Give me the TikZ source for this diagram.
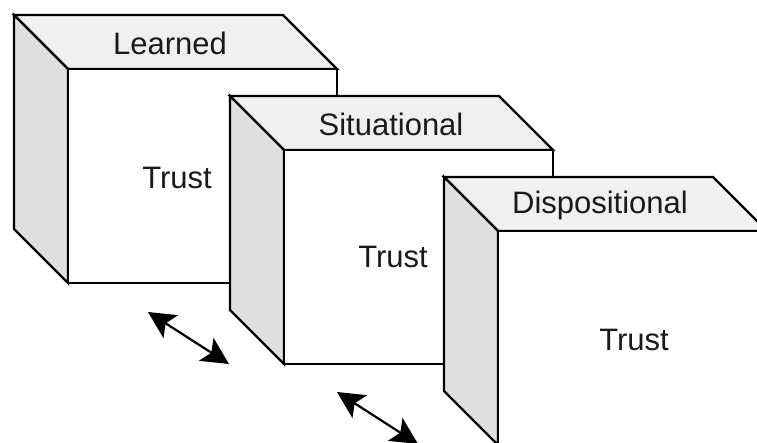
\documentclass[tikz,border=0pt]{standalone}
\usepackage{fontspec}
\setmainfont{Liberation Sans}
\usetikzlibrary{arrows.meta}
\definecolor{topgray}{HTML}{F0F0F0}
\definecolor{sidegray}{HTML}{E0E0E0}
\definecolor{txt}{HTML}{1A1A1A}
\tikzset{
  face/.style={draw=black, line width=2.4pt, line join=miter},
  topface/.style={face, fill=topgray},
  sideface/.style={face, fill=sidegray},
  frontface/.style={face, fill=white},
  lbl/.style={font=\fontsize{31}{34}\selectfont, text=txt, inner sep=0pt},
  dbl/.style={line width=2.2pt, {Stealth[length=27pt,width=27pt,inset=6pt]}-{Stealth[length=27pt,width=27pt,inset=6pt]}}
}
\newcommand{\drawcube}[1]{%
  \begin{scope}[shift={#1}]
    \draw[topface] (0,0) -- (269,0) -- (323,54) -- (54,54) -- cycle;
    \draw[sideface] (0,0) -- (54,54) -- (54,268) -- (0,214) -- cycle;
    \draw[frontface] (54,54) rectangle (323,268);
  \end{scope}}
\begin{document}
\begin{tikzpicture}[x=1pt,y=-1pt]
\useasboundingbox (0,0) rectangle (757,442);
\drawcube{(14,15)}
\node[lbl] (learned) at (170,43) {Learned};
\node[lbl] (trust1) at (177,178) {Trust};
\drawcube{(230,96)}
\node[lbl] (situational) at (391,124) {Situational};
\node[lbl] (trust2) at (393,257) {Trust};
\drawcube{(444,177)}
\node[lbl] (dispositional) at (600,205) {Dispositional};
\node[lbl] (trust3) at (634,340) {Trust};
\coordinate (a1s) at (148,312);
\coordinate (a1e) at (229,364);
\coordinate (a2s) at (337,392);
\coordinate (a2e) at (418,444);
\draw[dbl] (a1s) -- (a1e);
\draw[dbl] (a2s) -- (a2e);
\end{tikzpicture}
\end{document}
